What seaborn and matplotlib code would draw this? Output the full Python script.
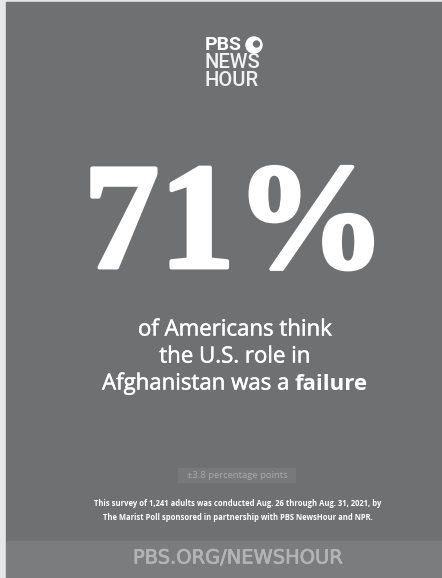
import matplotlib
matplotlib.use("Agg")
import matplotlib.pyplot as plt
from matplotlib.patches import Rectangle, Circle
from matplotlib import patheffects
import seaborn as sns

# Values shown on the card
share_pct = 71
margin_pts = 3.8
n_adults = 1241
logo_lines = ["PBS", "NEWS", "HOUR"]
caption_lines = ["of Americans think", "the U.S. role in", "Afghanistan was a"]
caption_bold = "failure"
survey_lines = [
    f"This survey of {n_adults:,} adults was conducted Aug. 26 through Aug. 31, 2021, by",
    "The Marist Poll sponsored in partnership with PBS NewsHour and NPR.",
]
footer_text = "PBS.ORG/NEWSHOUR"

# Colours
border_col = "#e6e7e9"
panel_col = "#6f7072"
footer_col = "#7b7c7e"
white = "#ffffff"

sns.set_theme(style="white")
plt.rcParams["font.family"] = ["Open Sans", "DejaVu Sans"]

W, H = 442, 578
fig = plt.figure(figsize=(W / 100, H / 100), dpi=100, facecolor=border_col)
ax = fig.add_axes([0, 0, 1, 1])
ax.set_xlim(0, W)
ax.set_ylim(H, 0)
ax.axis("off")

# background panel and footer band
ax.add_patch(Rectangle((6, 2), W - 6, 539, color=panel_col, zorder=0))
ax.add_patch(Rectangle((6, 541), W - 6, H - 541, color=footer_col, zorder=0))

cx = 235
logo_font = ["Roboto", "DejaVu Sans"]

def heavier(width, col=white):
    return [patheffects.withStroke(linewidth=width, foreground=col)]

# logo
ax.text(205, 45, logo_lines[0], ha="left", va="center", fontsize=14,
        fontweight="bold", color=white, family=logo_font)
ax.add_patch(Circle((254, 45), 8, color=white, zorder=2))
ax.add_patch(Circle((256.5, 44), 3.0, color=panel_col, zorder=3))
for y, line in zip([62, 80], logo_lines[1:]):
    ax.text(205, y, line, ha="left", va="center", fontsize=14.5,
            fontweight="medium", color="#f2f2f2", family=logo_font)

# big number, thickened to match the heavy display serif
ax.text(cx, 231, f"{share_pct}%", ha="center", va="center", fontsize=109,
        fontweight="bold", color=white, family="Liberation Serif",
        path_effects=heavier(2.8))

# caption
cap_size = 16
cap_y = [330, 357, 384]
for y, line in zip(cap_y[:2], caption_lines[:2]):
    ax.text(cx, y, line, ha="center", va="center", fontsize=cap_size,
            color=white, path_effects=heavier(0.35))

fig.canvas.draw()
renderer = fig.canvas.get_renderer()
t1 = ax.text(0, cap_y[2], caption_lines[2], ha="left", va="center",
             fontsize=cap_size, color=white, path_effects=heavier(0.35))
t2 = ax.text(0, cap_y[2], caption_bold, ha="left", va="center",
             fontsize=cap_size, fontweight="bold", color=white)
w1 = t1.get_window_extent(renderer).width
w2 = t2.get_window_extent(renderer).width
gap = 5
x0 = cx - (w1 + gap + w2) / 2
t1.set_x(x0)
t2.set_x(x0 + w1 + gap)

# margin of error box
ax.add_patch(Rectangle((178, 468), 117, 14, color="#78797b", zorder=1))
ax.text(cx + 2, 475, f"\u00b1{margin_pts} percentage points", ha="center",
        va="center", fontsize=6.8, color="#a9aaac", zorder=2)

# survey note
for y, line in zip([504, 518], survey_lines):
    ax.text(cx + 3, y, line, ha="center", va="center", fontsize=5.5,
            fontweight="bold", color=white)

# footer
ax.text(cx + 3, 558, footer_text, ha="center", va="center", fontsize=14,
        color="#b3b4b6", family=["DejaVu Sans"],
        path_effects=heavier(0.5, "#b3b4b6"))

fig.savefig("out.png", dpi=100, facecolor=border_col)
